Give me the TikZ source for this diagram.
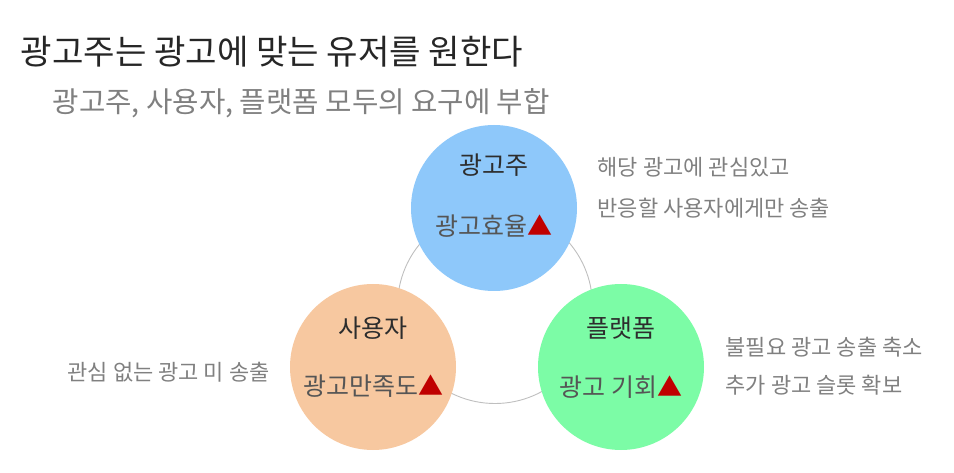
\documentclass[tikz,border=0pt]{standalone}
\usepackage{fontspec}
\setmainfont{Noto Sans CJK KR}
\usetikzlibrary{positioning,backgrounds}
\definecolor{ad@title}{RGB}{38,38,38}
\definecolor{ad@gray}{RGB}{128,128,128}
\definecolor{ad@dark}{RGB}{45,45,45}
\definecolor{ad@mid}{RGB}{85,85,85}
\definecolor{ad@red}{RGB}{192,0,0}
\definecolor{ad@ring}{RGB}{191,191,191}
\definecolor{ad@blue}{RGB}{142,200,250}
\definecolor{ad@orange}{RGB}{247,200,160}
\definecolor{ad@green}{RGB}{124,252,166}
\tikzset{
  adpic/.style={x=1pt, y=1pt, line width=0.8pt},
  party/.style={                   % one circle per party
    circle, draw=none,
    minimum size=166pt, inner sep=0pt
  },
  whohead/.style={font=\fontsize{25}{28}\selectfont, text=ad@dark},
  gain/.style={font=\fontsize{25}{28}\selectfont, text=ad@mid},
  note/.style={font=\fontsize{22}{26}\selectfont, text=ad@gray, anchor=west},
  ring/.style={draw=ad@ring, line width=0.9pt}
}
\newcommand{\up}{\textcolor{ad@red}{▲}}

\begin{document}
\begin{tikzpicture}[adpic]
\useasboundingbox (0,0) rectangle (954,472);

% heading
\node[anchor=west, text=ad@title, font=\fontsize{34.2}{38}\selectfont]
  (head) at (17,420) {광고주는 광고에 맞는 유저를 원한다};
\node[anchor=west, text=ad@gray, font=\fontsize{28.7}{34}\selectfont]
  (sub) at (49,369) {광고주, 사용자, 플랫폼 모두의 요구에 부합};

% ring behind the three parties
\node[circle, ring, minimum size=195pt, inner sep=0pt] (loop) at (495,166) {};

% the three parties
\node[party, fill=ad@blue]   (adv)  at (494,264) {};
\node[party, fill=ad@orange] (user) at (373,105) {};
\node[party, fill=ad@green]  (plat) at (621,105) {};

\node[whohead] (advname)  at (494,307) {광고주};
\node[gain]    (advgain)  at (494,246) {광고효율\up};
\node[whohead] (username) at (373,144) {사용자};
\node[gain]    (usergain) at (373,86)  {광고만족도\up};
\node[whohead] (platname) at (621,144) {플랫폼};
\node[gain]    (platgain) at (621,85)  {광고 기회\up};

% side notes
\node[note] (advnote1)  at (594,305) {해당 광고에 관심있고};
\node[note] (advnote2)  at (594,264) {반응할 사용자에게만 송출};
\node[note] (usernote)  at (64,100)  {관심 없는 광고 미 송출};
\node[note] (platnote1) at (722,125) {불필요 광고 송출 축소};
\node[note] (platnote2) at (722,87)  {추가 광고 슬롯 확보};

\end{tikzpicture}
\end{document}
